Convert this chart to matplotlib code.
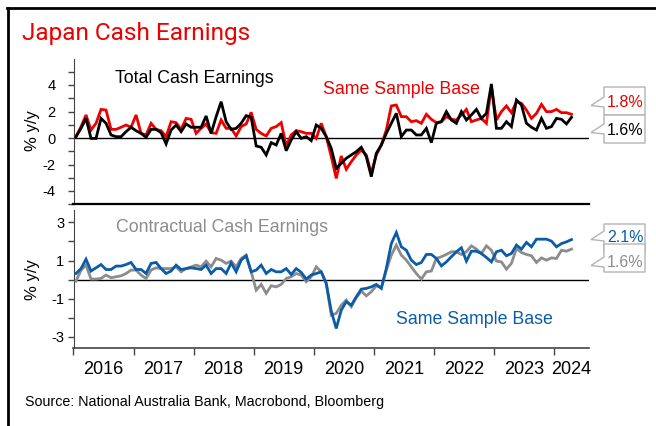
import matplotlib
matplotlib.use('Agg')
import matplotlib.pyplot as plt
import numpy as np
from matplotlib.patches import Polygon
from matplotlib.lines import Line2D

# ---------------- data (monthly, Jan 2016 - Apr 2024) ----------------
start_year = 2016
n_months = 100

total_ssb = [0.10, 0.86, 1.74, 0.60, 1.11, 2.16, 2.11, 0.65, 0.65, 0.81,
             0.98, 0.81, 1.74, 0.35, 0.23, 1.11, 0.65, 0.55, 0.10, 1.23,
             1.16, 0.65, 1.48, 1.41, 0.35, 0.73, 1.06, 0.40, 0.35, 1.36,
             0.73, 0.73, 0.15, 0.86, 1.06, 1.94, 0.65, 0.35, 0.15, 0.73,
             0.86, 1.16, -0.60, 0.23, 0.55, 0.48, 0.35, 0.35, -0.03, 1.11,
             0.10, -1.41, -3.05, -1.36, -2.36, -1.79, -1.28, -0.91, -1.28, -2.67,
             -1.28, -0.53, 0.60, 2.42, 2.49, 1.61, 1.61, 1.23, 1.31, 1.11,
             1.79, 1.41, 1.16, 1.23, 1.61, 1.41, 1.36, 1.74, 2.16, 1.23,
             1.36, 1.48, 1.11, 3.87, 1.36, 1.99, 2.42, 1.91, 2.74, 2.62,
             2.11, 1.48, 1.86, 2.54, 1.99, 1.99, 2.16, 1.91, 1.91, 1.79]

total = [0.10, 0.73, 1.48, -0.03, -0.03, 1.48, 1.11, 0.23, 0.10, 0.10,
         0.48, 0.81, 0.55, 0.35, 0.05, 0.65, 0.65, 0.40, -0.45, 0.60,
         0.98, 0.48, 1.06, 0.81, 0.81, 0.81, 1.66, 0.35, 1.61, 2.74,
         1.23, 0.65, 0.73, 1.11, 1.69, 1.56, -0.60, -0.70, -1.28, -0.35,
         -0.53, 0.35, -0.96, -0.15, 0.48, -0.03, 0.10, -0.20, 0.98, 0.73,
         0.10, -0.78, -2.29, -1.91, -1.53, -1.28, -1.03, -0.70, -1.41, -2.92,
         -1.16, -0.53, 0.35, 1.11, 1.86, 0.10, 0.60, 0.60, 0.23, 0.23,
         0.73, -0.35, 1.11, 1.23, 1.99, 1.36, 1.11, 1.99, 1.36, 1.74,
         2.16, 1.48, 1.86, 4.08, 0.73, 0.73, 1.23, 0.86, 2.87, 2.49,
         1.11, 0.81, 0.60, 1.48, 0.73, 0.86, 1.48, 1.41, 1.06, 1.56]

contract_ssb = [0.32, 0.58, 1.07, 0.45, 0.62, 0.79, 0.53, 0.53, 0.71, 0.71,
                0.79, 0.90, 0.53, 0.53, 0.32, 0.85, 0.90, 0.58, 0.32, 0.45,
                0.76, 0.53, 0.58, 0.62, 0.58, 0.53, 0.76, 0.32, 0.58, 0.58,
                0.32, 0.88, 0.41, 1.02, 1.25, 0.41, 0.50, 0.76, 0.32, 0.53,
                0.41, 0.41, 0.58, 0.27, 0.58, 0.38, 0.03, 0.24, 0.32, 0.41,
                -0.20, -1.65, -2.56, -1.60, -1.16, -1.34, -0.90, -0.50, -0.46, -0.38,
                -0.25, -0.46, 0.58, 1.89, 2.47, 1.72, 1.54, 1.02, 0.79, 0.90,
                1.32, 1.32, 1.11, 0.72, 0.93, 1.20, 1.46, 1.67, 0.97, 1.49,
                1.49, 1.37, 1.16, 0.93, 1.46, 1.54, 1.25, 1.37, 1.81, 1.60,
                1.95, 1.72, 2.12, 2.12, 2.12, 2.02, 1.72, 1.89, 1.98, 2.10]

contract = [-0.08, 0.50, 0.76, 0.03, 0.03, 0.06, 0.24, 0.10, 0.15, 0.20,
            0.32, 0.50, 0.50, 0.24, 0.06, 0.50, 0.62, 0.58, 0.58, 0.58,
            0.67, 0.41, 0.58, 0.67, 0.76, 0.67, 0.97, 0.67, 1.11, 1.02,
            0.85, 0.97, 0.67, 1.11, 1.28, 0.41, -0.55, -0.25, -0.72, -0.32,
            -0.38, -0.25, 0.06, 0.15, 0.32, 0.24, -0.11, 0.15, 0.67, 0.41,
            -0.20, -1.86, -1.77, -1.34, -1.07, -1.42, -0.95, -0.60, -0.85, -0.64,
            -0.32, -0.43, 0.50, 1.28, 1.81, 1.28, 1.02, 0.67, 0.32, 0.03,
            0.41, 0.45, 1.11, 1.20, 1.32, 1.46, 1.46, 1.32, 1.46, 1.77,
            1.60, 1.37, 1.77, 1.54, 0.97, 0.93, 0.55, 0.85, 1.63, 1.42,
            1.32, 1.25, 0.90, 1.14, 1.02, 1.14, 1.11, 1.54, 1.49, 1.60]

year_labels = ['2016', '2017', '2018', '2019', '2020', '2021', '2022', '2023', '2024']
callout_top = ['1.8%', '1.6%']
callout_bottom = ['2.1%', '1.6%']

# ---------------- styling ----------------
RED = '#EE0000'
BLUE = '#0B5CA8'
GRAY = '#8C8C8C'
SPINE = '#444444'
FONT = 'Liberation Sans'

W, H = 656, 426
fig = plt.figure(figsize=(W / 100, H / 100), dpi=100)
plt.rcParams['font.family'] = [FONT, 'DejaVu Sans']


def fx(px):
    return px / W


def fy(py):
    return 1 - py / H


x = start_year + (np.arange(n_months) + 0.5) / 12
xmin, xmax = 2016.0, 2024.5833

# ---------------- top panel ----------------
ax1 = fig.add_axes([fx(73.5), fy(204.25), fx(589) - fx(73.5), fy(58.5) - fy(204.25)])
ax1.plot(x, total_ssb, color=RED, lw=2.0, solid_joinstyle='miter', zorder=3)
ax1.plot(x, total, color='black', lw=2.0, solid_joinstyle='miter', zorder=4)
ax1.axhline(0, color='black', lw=1.0, zorder=2)
ax1.set_xlim(xmin, xmax)
ax1.set_ylim(-5, 6)
ax1.set_yticks([-4, -2, 0, 2, 4])
ax1.set_yticklabels(['-4', '-2', '0', '2', '4'])
ax1.set_yticks([-5, -3, -1, 1, 3, 5], minor=True)
ax1.tick_params(axis='y', which='both', length=4.5, width=1, color=SPINE,
                direction='out', labelsize=10.5, pad=8.4)
ax1.set_xticks([])
for s in ['top', 'right']:
    ax1.spines[s].set_visible(False)
ax1.spines['left'].set_color(SPINE)
ax1.spines['bottom'].set_color('black')
ax1.spines['bottom'].set_linewidth(1.6)

# ---------------- bottom panel ----------------
ax2 = fig.add_axes([fx(73.5), fy(348.3), fx(589) - fx(73.5), fy(210) - fy(348.3)])
ax2.plot(x, contract, color=GRAY, lw=2.0, solid_joinstyle='miter', zorder=3)
ax2.plot(x, contract_ssb, color=BLUE, lw=2.0, solid_joinstyle='miter', zorder=4)
ax2.axhline(0, color='black', lw=1.0, zorder=2)
ax2.set_xlim(xmin, xmax)
ax2.set_ylim(-3.6, 3.65)
ax2.set_yticks([-3, -1, 1, 3])
ax2.set_yticklabels(['-3', '-1', '1', '3'])
ax2.set_yticks([-2, 0, 2], minor=True)
ax2.tick_params(axis='y', which='both', length=4.5, width=1, color=SPINE,
                direction='out', labelsize=10.5, pad=2)
year_ticks = list(range(2016, 2025))
ax2.set_xticks(year_ticks)
ax2.set_xticklabels([])
label_pos = [y + 0.5 for y in range(2016, 2024)] + [2024.29]
ax2.set_xticks(label_pos, minor=True)
ax2.set_xticklabels(year_labels, minor=True)
ax2.tick_params(axis='x', which='major', length=5, width=1, color=SPINE, direction='out')
ax2.tick_params(axis='x', which='minor', length=0, labelsize=13, pad=9)
for s in ['top', 'right']:
    ax2.spines[s].set_visible(False)
ax2.spines['left'].set_color(SPINE)
ax2.spines['bottom'].set_color(SPINE)
ax2.spines['bottom'].set_linewidth(1.2)

# ---------------- texts ----------------
fig.text(fx(22), fy(40), 'Japan Cash Earnings', color=RED, fontsize=17.6,
         family=['Roboto', 'DejaVu Sans'], ha='left', va='baseline')
fig.text(fx(115), fy(83.3), 'Total Cash Earnings', color='black', fontsize=12.8,
         ha='left', va='baseline')
fig.text(fx(323), fy(94), 'Same Sample Base', color=RED, fontsize=12.8,
         ha='left', va='baseline')
fig.text(fx(116), fy(232.3), 'Contractual Cash Earnings', color=GRAY, fontsize=12.8,
         ha='left', va='baseline')
fig.text(fx(396), fy(324), 'Same Sample Base', color=BLUE, fontsize=12.8,
         ha='left', va='baseline')
fig.text(fx(32), fy(131), '% y/y', rotation=90, fontsize=12, ha='center', va='center')
fig.text(fx(32), fy(280), '% y/y', rotation=90, fontsize=12, ha='center', va='center')
fig.text(fx(25), fy(406), 'Source: National Australia Bank, Macrobond, Bloomberg',
         fontsize=10.3, ha='left', va='baseline')


# ---------------- callouts ----------------
def callout(y0, y1, cy, base, text, color):
    x0, x1, tipx = 604, 645, 591
    pts = [(x0, y0), (x1, y0), (x1, y1), (x0, y1), (x0, cy + 5), (tipx, cy + 3.5), (x0, cy - 5)]
    poly = Polygon([(fx(a), fy(b)) for a, b in pts], closed=True, transform=fig.transFigure,
                   facecolor='white', edgecolor='#B4B4B4', lw=1.0, zorder=5)
    fig.add_artist(poly)
    fig.text(fx(625), fy(base), text, color=color, fontsize=11.5, ha='center', va='baseline',
             zorder=6)


callout(87, 115, 102, 107.3, callout_top[0], RED)
callout(115, 143, 129, 135, callout_top[1], 'black')
callout(224, 252, 236, 241.7, callout_bottom[0], BLUE)
callout(244, 272, 262, 267, callout_bottom[1], GRAY)

# ---------------- frame ----------------
fig.add_artist(Line2D([fx(6.5), 1.0], [fy(8.3), fy(8.3)], transform=fig.transFigure,
                      color='black', lw=2.0))
fig.add_artist(Line2D([fx(7.5), fx(7.5)], [fy(8.3), 0.0], transform=fig.transFigure,
                      color='black', lw=2.0))

fig.savefig('out.png', dpi=100, facecolor='white')
